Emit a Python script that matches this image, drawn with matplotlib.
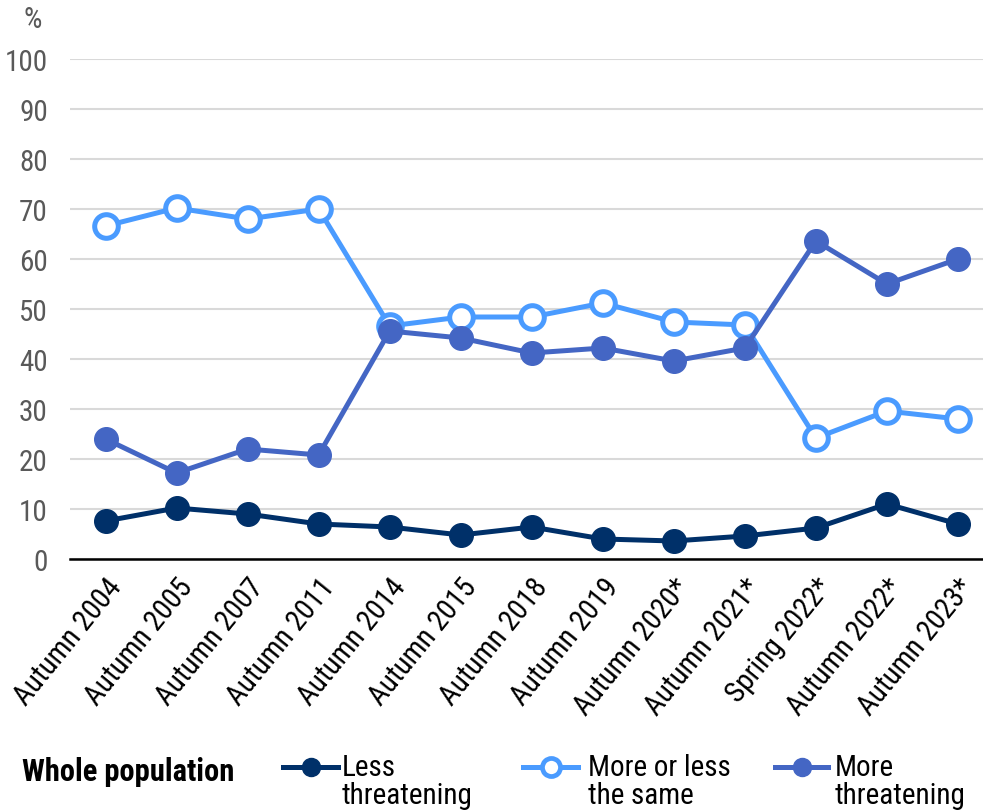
import matplotlib
matplotlib.use("Agg")
import matplotlib.pyplot as plt
from matplotlib.lines import Line2D
from matplotlib import font_manager

categories = ["Autumn 2004", "Autumn 2005", "Autumn 2007", "Autumn 2011", "Autumn 2014",
              "Autumn 2015", "Autumn 2018", "Autumn 2019", "Autumn 2020*", "Autumn 2021*",
              "Spring 2022*", "Autumn 2022*", "Autumn 2023*"]
less_threatening = [7.6, 10.2, 9.0, 7.0, 6.4, 4.8, 6.4, 4.0, 3.6, 4.6, 6.2, 11.0, 7.0]
same = [66.6, 70.2, 68.0, 70.0, 46.6, 48.4, 48.4, 51.2, 47.4, 46.8, 24.2, 29.6, 28.0]
more_threatening = [24.0, 17.2, 22.0, 20.8, 45.6, 44.2, 41.2, 42.2, 39.6, 42.2, 63.6, 55.0, 60.0]
yticks = [0, 10, 20, 30, 40, 50, 60, 70, 80, 90, 100]

names = {f.name for f in font_manager.fontManager.ttflist}
fam = "DejaVu Sans"
for cand in ["Roboto Condensed", "Open Sans Condensed", "Liberation Sans Narrow", "Lato", "Open Sans"]:
    if cand in names:
        fam = cand
        break
plt.rcParams['font.family'] = [fam, 'DejaVu Sans']

C_LESS = "#003069"
C_SAME = "#4a9bff"
C_MORE = "#4466c4"
GRAY = "#595959"
FS = 21

W, H = 983, 812
fig = plt.figure(figsize=(W/100, H/100), dpi=100)
ax = fig.add_axes([70/W, 1-560/H, (983-70)/W, 500/H])

x = list(range(len(categories)))
lw = 3.6
ms = 17
ax.plot(x, less_threatening, color=C_LESS, lw=lw, marker='o', ms=ms, zorder=3)
ax.plot(x, same, color=C_SAME, lw=lw, marker='o', ms=ms, mfc='white', mec=C_SAME, mew=3.6, zorder=4)
ax.plot(x, more_threatening, color=C_MORE, lw=lw, marker='o', ms=ms, zorder=5)

ax.set_ylim(0, 100)
ax.set_xlim(-0.5, 12 + 25/71)
ax.set_yticks(yticks)
ax.set_yticklabels([str(v) for v in yticks], fontsize=FS, color=GRAY)
ax.set_xticks(x)
ax.set_xticklabels(categories, rotation=51, ha='right', rotation_mode='anchor', fontsize=FS, color='black')
ax.tick_params(axis='x', length=0, pad=10)
ax.tick_params(axis='y', length=0, pad=16)
ax.grid(axis='y', color='#d9d9d9', lw=1.5)
ax.set_axisbelow(True)
for s in ['top', 'right', 'left']:
    ax.spines[s].set_visible(False)
ax.spines['bottom'].set_color('black')
ax.spines['bottom'].set_linewidth(1.8)
ax.spines['bottom'].set_zorder(6)

fig.text(33/W, 1-20/H, "%", fontsize=FS, color=GRAY, ha='center', va='center')

# legend
ly = 1-768/H
fig.text(22/W, 1-772/H, "Whole population", fontsize=22, fontweight='bold', ha='left', va='center')
items = [(283, 338, 342, "Less\nthreatening", C_LESS, C_LESS),
         (523, 578, 588, "More or less\nthe same", C_SAME, 'white'),
         (775, 828, 835, "More\nthreatening", C_MORE, C_MORE)]
for x0, x1, tx, lab, c, fc in items:
    fig.add_artist(Line2D([x0/W, x1/W], [ly, ly], color=c, lw=lw, transform=fig.transFigure))
    fig.add_artist(Line2D([(x0+x1)/2/W], [ly], color=c, marker='o', ms=13, mfc=fc, mec=c,
                          mew=3.4 if fc == 'white' else 1, transform=fig.transFigure))
    fig.text(tx/W, 1-754/H, lab, fontsize=FS, ha='left', va='top', linespacing=1.0)

fig.savefig("out.png", dpi=100)
